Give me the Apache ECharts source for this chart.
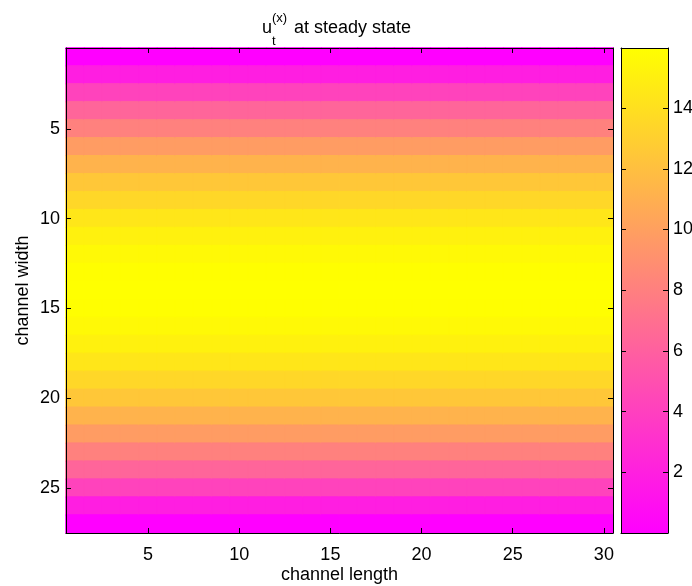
<!DOCTYPE html>
<html>
<head>
<meta charset="utf-8">
<script src="https://cdn.jsdelivr.net/npm/echarts@6/dist/echarts.min.js"></script>
<style>
  html, body { margin: 0; background: #fff; }
  #chart { width: 692px; height: 586px; }
</style>
</head>
<body>
<div id="chart"></div>
<script>
// channel length (columns) and channel width (rows)
const lengthCats = Array.from({ length: 30 }, (_, i) => String(i + 1))
const widthCats = Array.from({ length: 27 }, (_, i) => String(i + 1))

// u at steady state, one value per row (same along the channel length)
const rowValues = [
  0, 1.9, 4.2, 6.3, 8.1, 9.8, 11.2, 12.45, 13.5, 14.4, 15.1, 15.6, 15.9,
  15.98,
  15.9, 15.6, 15.1, 14.4, 13.5, 12.45, 11.2, 9.8, 8.1, 6.3, 4.2, 1.9, 0
]

const colorMin = 0
const colorMax = 15.98
const springColors = ['#ff00ff', '#ffff00']

const FONT = "'Liberation Sans', Arial, sans-serif"
const FS = 18

// same colour as the visualMap gives, used for the cell border so no seams show
const cellColor = (v) => echarts.color.lerp((v - colorMin) / (colorMax - colorMin), springColors)

const heatData = []
lengthCats.forEach((c, ci) => {
  rowValues.forEach((v, ri) => {
    heatData.push({ value: [ci, ri, v], itemStyle: { borderColor: cellColor(v), borderWidth: 1 } })
  })
})

const every5 = (i) => (i + 1) % 5 === 0

const chart = echarts.init(document.getElementById('chart'))

const lineStyle = { color: '#000', width: 1 }
const tick5 = () => ({ show: true, inside: true, length: 5, alignWithLabel: true, interval: (i) => every5(i), lineStyle })

chart.setOption({
  animation: false,
  backgroundColor: '#fff',
  textStyle: { fontFamily: FONT },
  graphic: [
    { type: 'text', left: 262, top: 19, z: 20, style: { text: 'u', font: FS + 'px ' + FONT, fill: '#000' } },
    { type: 'text', left: 272, top: 35, z: 20, style: { text: 't', font: '13px ' + FONT, fill: '#000' } },
    { type: 'text', left: 272, top: 12, z: 20, style: { text: '(x)', font: '13px ' + FONT, fill: '#000' } },
    { type: 'text', left: 294, top: 19, z: 20, style: { text: 'at steady state', font: FS + 'px ' + FONT, fill: '#000' } }
  ],
  grid: [
    { left: 66, top: 48, width: 547, height: 485, containLabel: false, outerBoundsMode: 'none' },
    { left: 621, top: 48, width: 47, height: 485, containLabel: false, outerBoundsMode: 'none' }
  ],
  xAxis: [
    {
      type: 'category', gridIndex: 0, data: lengthCats, position: 'bottom', z: 10,
      name: 'channel length', nameLocation: 'middle', nameGap: 33, nameMoveOverlap: false,
      nameTextStyle: { fontSize: FS, color: '#000', fontFamily: FONT },
      axisLine: { onZero: false, lineStyle },
      axisTick: tick5(),
      axisLabel: { interval: (i) => every5(i), fontSize: FS, color: '#000', margin: 13, fontFamily: FONT },
      splitLine: { show: false }
    },
    {
      type: 'category', gridIndex: 0, data: lengthCats, position: 'top', z: 10,
      axisLine: { onZero: false, lineStyle },
      axisTick: tick5(),
      axisLabel: { show: false },
      splitLine: { show: false }
    },
    {
      type: 'category', gridIndex: 1, data: ['u'], position: 'bottom', z: 10,
      axisLine: { onZero: false, lineStyle },
      axisTick: { show: false },
      axisLabel: { show: false }
    },
    {
      type: 'category', gridIndex: 1, data: ['u'], position: 'top', z: 10,
      axisLine: { onZero: false, lineStyle },
      axisTick: { show: false },
      axisLabel: { show: false }
    }
  ],
  yAxis: [
    {
      type: 'category', gridIndex: 0, data: widthCats, inverse: true, position: 'left', z: 10,
      name: 'channel width', nameLocation: 'middle', nameGap: 34, nameMoveOverlap: false,
      nameTextStyle: { fontSize: FS, color: '#000', fontFamily: FONT },
      axisLine: { onZero: false, lineStyle },
      axisTick: tick5(),
      axisLabel: { interval: (i) => every5(i), fontSize: FS, color: '#000', margin: 6, fontFamily: FONT },
      splitLine: { show: false }
    },
    {
      type: 'category', gridIndex: 0, data: widthCats, inverse: true, position: 'right', z: 10,
      axisLine: { onZero: false, lineStyle },
      axisTick: tick5(),
      axisLabel: { show: false },
      splitLine: { show: false }
    },
    {
      type: 'value', gridIndex: 1, min: colorMin, max: colorMax, interval: 2, position: 'left', z: 10,
      axisLine: { show: true, onZero: false, lineStyle },
      axisTick: { show: true, inside: true, length: 5, lineStyle },
      axisLabel: { show: false },
      splitLine: { show: false }
    },
    {
      type: 'value', gridIndex: 1, min: colorMin, max: colorMax, interval: 2, position: 'right', z: 10,
      axisLine: { show: true, onZero: false, lineStyle },
      axisTick: { show: true, inside: true, length: 5, lineStyle },
      axisLabel: {
        fontSize: FS, color: '#000', margin: 5, fontFamily: FONT,
        showMinLabel: false, showMaxLabel: false,
        formatter: (v) => (v > 0 && v < 16 && v % 2 === 0 ? String(v) : '')
      },
      splitLine: { show: false }
    }
  ],
  visualMap: {
    show: false,
    seriesIndex: 0,
    min: colorMin,
    max: colorMax,
    inRange: { color: springColors }
  },
  series: [
    {
      type: 'heatmap',
      xAxisIndex: 0,
      yAxisIndex: 0,
      data: heatData,
      emphasis: { disabled: true }
    },
    {
      type: 'bar',
      xAxisIndex: 2,
      yAxisIndex: 2,
      data: [colorMax],
      barWidth: '100%',
      barCategoryGap: 0,
      itemStyle: {
        color: new echarts.graphic.LinearGradient(0, 1, 0, 0, [
          { offset: 0, color: springColors[0] },
          { offset: 1, color: springColors[1] }
        ])
      },
      emphasis: { disabled: true }
    }
  ]
})
</script>
</body>
</html>
